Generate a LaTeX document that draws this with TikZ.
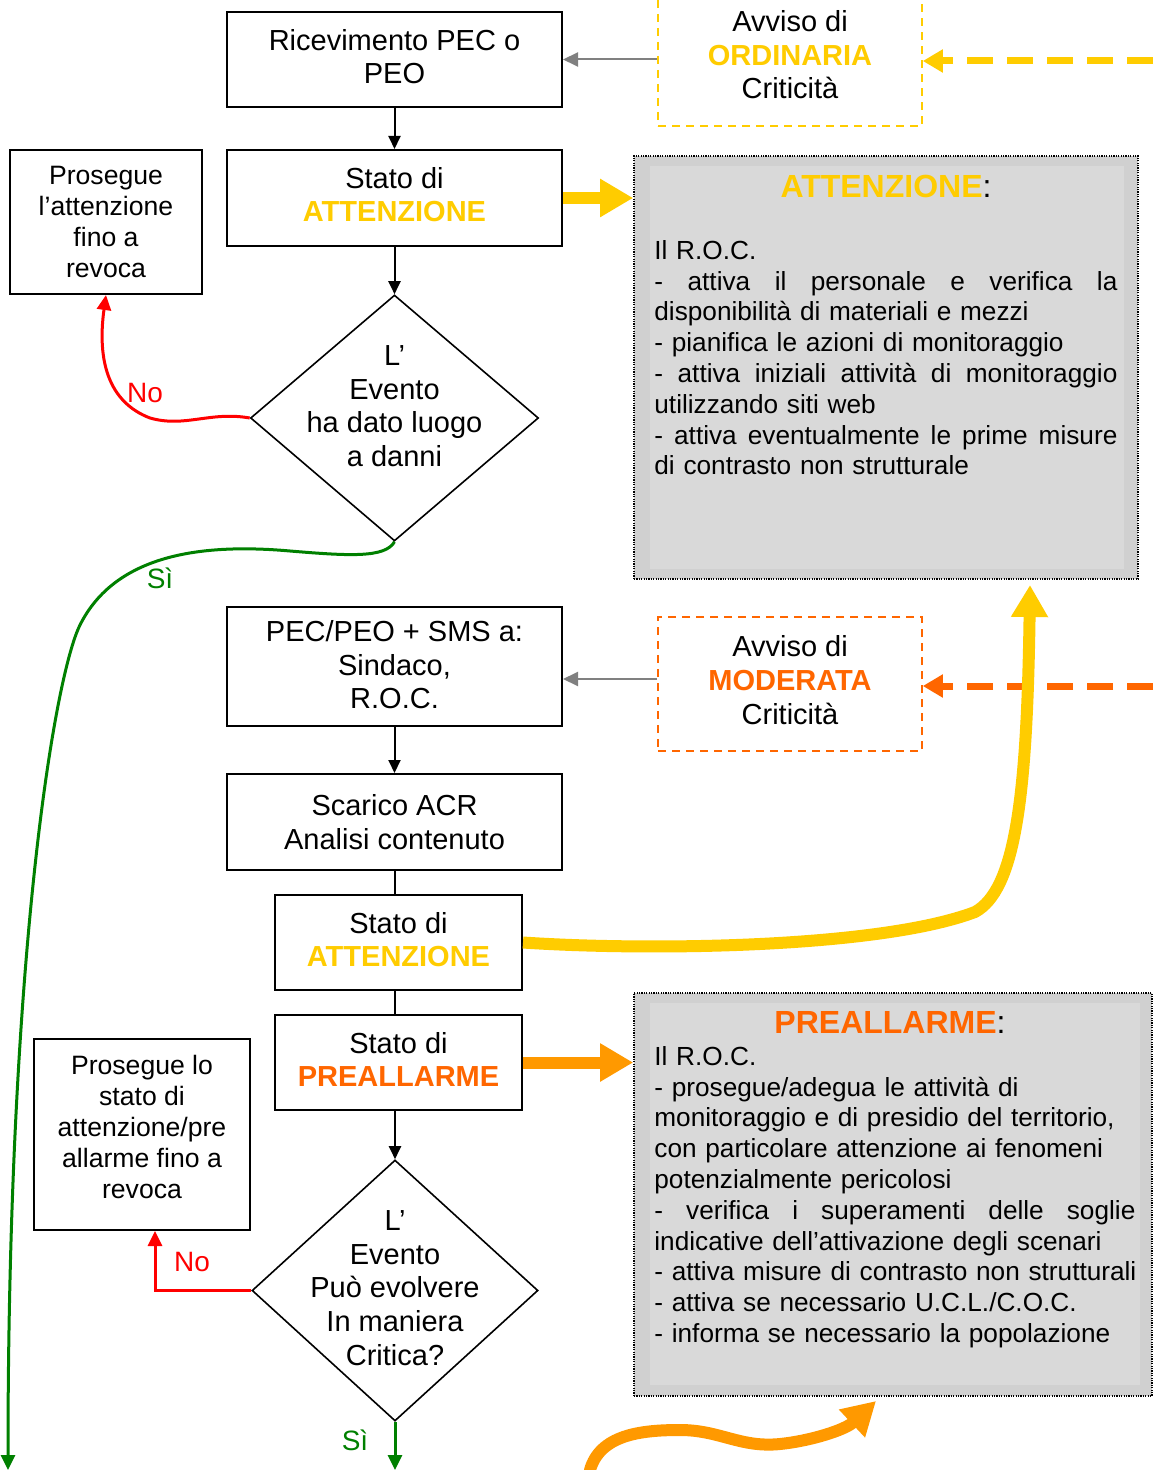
\documentclass[tikz,border=0pt]{standalone}
\usepackage{fontspec}
\setmainfont{Liberation Sans}
\usetikzlibrary{arrows.meta,shapes.geometric,calc}
\definecolor{yel}{HTML}{FFCC00}
\definecolor{ora}{HTML}{FF6600}
\definecolor{orl}{HTML}{FF9900}
\definecolor{grn}{HTML}{008000}
\definecolor{redc}{HTML}{FF0000}
\definecolor{gout}{HTML}{D0D0D0}
\definecolor{gin}{HTML}{D9D9D9}
\definecolor{garr}{HTML}{808080}
\newcommand\jA[1]{{\spaceskip=0.278em plus 10em\makebox[231.5pt][s]{#1}}}
\newcommand\jB[1]{{\spaceskip=0.278em plus 10em\makebox[240.5pt][s]{#1}}}
\newcommand\xdep[1]{\rule[-#1]{0pt}{0pt}}
\begin{document}
\begin{tikzpicture}[x=0.5pt,y=-0.5pt,
  fmain/.style={font=\fontsize{14.5}{16.8}\selectfont},
  box/.style={draw,line width=1pt,fmain,align=center,inner sep=0pt},
  dbox/.style={draw,line width=0.8pt,dash pattern=on 4pt off 3pt,fmain,align=center,inner sep=0pt,minimum width=132pt},
  dia/.style={draw,diamond,line width=0.8pt,inner sep=0pt},
  dtext/.style={fmain,align=center,inner sep=0pt},
  gbox/.style={draw,line width=0.8pt,dash pattern=on 0.6pt off 0.6pt,fill=gout,inner sep=0pt},
  body/.style={font=\fontsize{13.1}{15.4}\selectfont,align=left,inner sep=0pt,anchor=north west},
  ptext/.style={font=\fontsize{13.3}{15.5}\selectfont,align=center,inner sep=0pt},
  ttl/.style={font=\fontsize{16}{18}\selectfont,inner sep=0pt},
  arr/.style={line width=1pt,-{Triangle[length=6.5pt,width=6pt]}},
  garrow/.style={draw=garr,line width=1pt,-{Triangle[length=7.5pt,width=7pt]}},
  thin/.style={line width=1.5pt,-{Triangle[length=7.5pt,width=7pt]}},
  fat/.style={line width=6pt,-{Triangle[length=16.5pt,width=18pt]}},
  dashy/.style={line width=3.5pt,dash pattern=on 13pt off 7pt,-{Triangle[length=10pt,width=11pt]}},
  lab/.style={font=\fontsize{14}{16}\selectfont,inner sep=0pt},
]
\fill[white] (0,0) rectangle (1153,1470);
\useasboundingbox (0,0) rectangle (1153,1470);

% gray boxes
\node[gbox,minimum width=252pt,minimum height=211.5pt] (gA) at (886,367.5) {};
\fill[gin] (650,166) rectangle (1124,569);
\node[ttl] (tA) at (886,186) {\textbf{\color{yel}ATTENZIONE}:};
\node[body,text width=236pt] (bA) at (654,240) {Il R.O.C.\\
\jA{- attiva il personale e verifica la}\\
disponibilità di materiali e mezzi\\
- pianifica le azioni di monitoraggio\\
\jA{- attiva iniziali attività di monitoraggio}\\
utilizzando siti web\\
\jA{- attiva eventualmente le prime misure}\\
di contrasto non strutturale};

\node[gbox,minimum width=259pt,minimum height=201.5pt] (gB) at (893,1194.5) {};
\fill[gin] (650,1003) rectangle (1140,1385);
\node[ttl] (tB) at (890,1022) {\textbf{\color{ora}PREALLARME}:};
\node[body,text width=246pt] (bB) at (654,1046) {Il R.O.C.\\
- prosegue/adegua le attività di\\
monitoraggio e di presidio del territorio,\\
con particolare attenzione ai fenomeni\\
potenzialmente pericolosi\\
\jB{- verifica i superamenti delle soglie}\\
indicative dell’attivazione degli scenari\\
- attiva misure di contrasto non strutturali\\
- attiva se necessario U.C.L./C.O.C.\\
- informa se necessario la popolazione};

% flow boxes
\node[box,minimum width=167.5pt,minimum height=47.5pt] (b1) at (394.5,59.5) {Ricevimento PEC o\\PEO\xdep{3pt}};
\node[dbox,draw=yel,minimum height=71pt] (ord) at (790,55) {Avviso di\\\textbf{\color{yel}ORDINARIA}\\Criticità};
\node[box,minimum width=167.5pt,minimum height=48pt] (b2) at (394.5,198) {Stato di\\\textbf{\color{yel}ATTENZIONE}\xdep{3.5pt}};
\node[box,minimum width=96pt,minimum height=72pt,font=\fontsize{13.3}{15.5}\selectfont] (p1) at (106,222) {Prosegue\\l’attenzione\\fino a\\revoca};
\node[dia,minimum width=144pt,minimum height=123pt] (d1) at (394.5,418) {};
\node[dtext] (d1t) at (394.5,406) {L’\\Evento\\ha dato luogo\\a danni};

\node[box,minimum width=167.5pt,minimum height=59.5pt] (b3) at (394.5,666.5) {PEC/PEO + SMS a:\\Sindaco,\\R.O.C.\xdep{2pt}};
\node[dbox,draw=ora,minimum height=67pt] (mod) at (790,684) {Avviso di\\\textbf{\color{ora}MODERATA}\\Criticità\xdep{4pt}};
\node[box,minimum width=167.5pt,minimum height=48pt] (b4) at (394.5,822) {Scarico ACR\\Analisi contenuto};
\node[box,minimum width=123.5pt,minimum height=47.5pt] (b5) at (398.5,942.5) {Stato di\\\textbf{\color{yel}ATTENZIONE}\xdep{3pt}};
\node[box,minimum width=123.5pt,minimum height=47.5pt] (b6) at (398.5,1062.5) {Stato di\\\textbf{\color{ora}PREALLARME}\xdep{3pt}};
\node[box,minimum width=108pt,minimum height=95.5pt] (p2) at (142,1134.5) {};
\node[ptext] (p2t) at (142,1126.5) {Prosegue lo\\stato di\\attenzione/pre\\allarme fino a\\revoca};
\node[dia,minimum width=143pt,minimum height=130.5pt] (d2) at (395,1290.5) {};
\node[dtext] (d2t) at (395,1288) {L’\\Evento\\Può evolvere\\In maniera\\Critica?};

% coordinates for free ends
\coordinate (inO) at (1153,61);
\coordinate (inM) at (1153,686);
\coordinate (mw) at ([yshift=2.5pt]mod.west);
\coordinate (gOut1) at (8,1470);
\coordinate (gOut2) at (395,1470);
\coordinate (inA) at (1030,585);
\coordinate (oS) at (590,1470);
\coordinate (oE) at (876,1401);

% connectors
\draw[arr] (b1.south) -- (b2.north);
\draw[garrow] (ord.west |- b1.east) -- (b1.east);
\draw[yel,dashy] (inO) -- (inO -| ord.east);
\draw[arr] (b2.south) -- (d1.north);
\draw[redc,thin] (d1.west) .. controls (210,411) and (185,428) .. (150,418)
  .. controls (108,402) and (97,360) .. (p1.south);
\node[lab,text=redc] (no1) at (145,393) {No};
\draw[grn,thin] (d1.south) .. controls (385,558) and (350,556) .. (290,551)
  .. controls (200,543) and (115,555) .. (80,625)
  .. controls (55,675) and (8,950) .. (gOut1);
\node[lab,text=grn] (si1) at (160,578) {Sì};
\draw[yel,fat] (b2.east) -- (gA.west |- b2.east);

\draw[garrow] (mw) -- (mw -| b3.east);
\draw[ora,dashy] (inM) -- (inM -| mod.east);
\draw[arr] (b3.south) -- (b4.north);
\draw[line width=1pt] (b4.south) -- (b4.south |- b5.north);
\draw[line width=1pt] (b4.south |- b5.south) -- (b4.south |- b6.north);
\draw[yel,fat,-{Triangle[length=16pt,width=17.5pt]}] (b5.east) .. controls (650,951) and (880,948) .. (975,912)
  .. controls (1015,890) and (1027,800) .. (inA);
\draw[orl,fat] (b6.east) -- (gB.west |- b6.east);
\draw[arr] (b6.south -| d2.north) -- (d2.north);
\draw[redc,thin] (d2.west) -| ([xshift=6.5pt]p2.south);
\node[lab,text=redc] (no2) at (192,1262) {No};
\draw[grn,thin] (d2.south) -- (gOut2);
\node[lab,text=grn] (si2) at (355,1440) {Sì};
\draw[orl,fat,line cap=round] (oS) .. controls (600,1435) and (640,1430) .. (680,1430)
  .. controls (720,1430) and (740,1448) .. (780,1444)
  .. controls (810,1441) and (845,1430) .. (oE);
\end{tikzpicture}
\end{document}
